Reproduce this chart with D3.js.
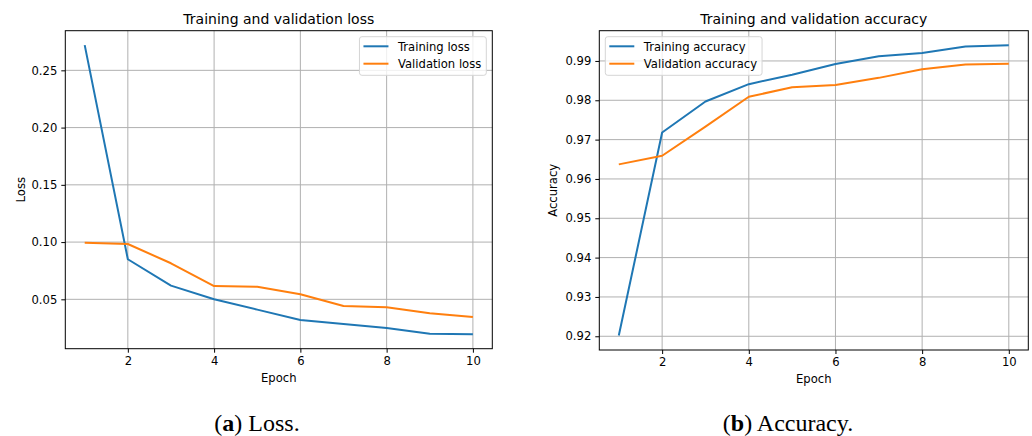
<!DOCTYPE html>
<html>
<head>
<meta charset="utf-8">
<script src="https://cdn.jsdelivr.net/npm/d3@7"></script>
<style>
  html, body { margin: 0; padding: 0; background: #fff; }
  svg text { font-family: "DejaVu Sans", sans-serif; fill: #000; }
  .caption { font-family: "Liberation Serif", serif; }
</style>
</head>
<body>
<svg id="fig" width="1032" height="436"></svg>
<script>
// data
const epochs = [1, 2, 3, 4, 5, 6, 7, 8, 9, 10];
const trainLoss = [0.272, 0.085, 0.062, 0.050, 0.041, 0.032, 0.0285, 0.025, 0.020, 0.0195];
const valLoss = [0.0994, 0.0983, 0.0815, 0.0616, 0.061, 0.0544, 0.0442, 0.043, 0.0378, 0.0346];
const trainAcc = [0.9202, 0.9718, 0.9797, 0.9841, 0.9865, 0.9892, 0.9912, 0.9920, 0.9937, 0.9940];
const valAcc = [0.9637, 0.9659, 0.9733, 0.9809, 0.9833, 0.9839, 0.9857, 0.9879, 0.9891, 0.9893];
const epochTicks = [2, 4, 6, 8, 10];
const lossTicks = [0.05, 0.10, 0.15, 0.20, 0.25];
const accTicks = [0.92, 0.93, 0.94, 0.95, 0.96, 0.97, 0.98, 0.99];

const blue = "#1f77b4";
const orange = "#ff7f0e";

const svg = d3.select("#fig");

// matplotlib-like 5% padding
function padded(values) {
  const [lo, hi] = d3.extent(values);
  const m = (hi - lo) * 0.05;
  return [lo - m, hi + m];
}

function drawPanel(opt) {
  const { left, right, top, bottom } = opt.box;
  const g = svg.append("g");

  const x = d3.scaleLinear().domain(padded(epochs)).range([left, right]);
  const y = d3.scaleLinear()
    .domain(padded(opt.series[0].values.concat(opt.series[1].values)))
    .range([bottom, top]);

  // grid
  g.selectAll(".vgrid")
    .data(epochTicks)
    .enter()
    .append("line")
    .attr("x1", (d) => x(d)).attr("x2", (d) => x(d))
    .attr("y1", top).attr("y2", bottom)
    .attr("stroke", "#b0b0b0")
    .attr("stroke-width", 1);

  g.selectAll(".hgrid")
    .data(opt.yTicks)
    .enter()
    .append("line")
    .attr("x1", left).attr("x2", right)
    .attr("y1", (d) => y(d)).attr("y2", (d) => y(d))
    .attr("stroke", "#b0b0b0")
    .attr("stroke-width", 1);

  // axes
  const xAxis = g.append("g")
    .attr("transform", `translate(0, ${bottom})`)
    .call(d3.axisBottom(x).tickValues(epochTicks).tickSize(4).tickPadding(4));
  const yAxis = g.append("g")
    .attr("transform", `translate(${left}, 0)`)
    .call(d3.axisLeft(y).tickValues(opt.yTicks).tickFormat(d3.format(".2f")).tickSize(4).tickPadding(4));

  [xAxis, yAxis].forEach((a) => {
    a.select(".domain").remove();
    a.selectAll("text").attr("font-family", "DejaVu Sans").attr("font-size", 11.6).attr("fill", "#000");
    a.selectAll("line").attr("stroke", "#000").attr("stroke-width", 1);
  });

  // lines
  const line = d3.line()
    .x((d, i) => x(epochs[i]))
    .y((d) => y(d));

  opt.series.forEach((s) => {
    g.append("path")
      .datum(s.values)
      .attr("fill", "none")
      .attr("stroke", s.color)
      .attr("stroke-width", 2)
      .attr("stroke-linejoin", "round")
      .attr("d", line);
  });

  // frame
  g.append("rect")
    .attr("x", left).attr("y", top)
    .attr("width", right - left).attr("height", bottom - top)
    .attr("fill", "none")
    .attr("stroke", "#000")
    .attr("stroke-width", 1);

  // title & labels
  g.append("text")
    .attr("x", (left + right) / 2)
    .attr("y", top - 7)
    .attr("text-anchor", "middle")
    .attr("font-size", 14)
    .text(opt.title);

  g.append("text")
    .attr("x", (left + right) / 2)
    .attr("y", bottom + 33)
    .attr("text-anchor", "middle")
    .attr("font-size", 11.6)
    .text("Epoch");

  g.append("text")
    .attr("transform", `translate(${opt.yLabelX}, ${(top + bottom) / 2}) rotate(-90)`)
    .attr("text-anchor", "middle")
    .attr("font-size", 11.6)
    .text(opt.yLabel);

  // legend
  const leg = g.append("g");
  const frame = leg.append("rect");
  const rowH = 17.4;
  const items = opt.series.map((s, i) => {
    const ly = top + 15.6 + i * rowH;
    leg.append("line")
      .attr("x1", 0).attr("x2", 25)
      .attr("y1", ly).attr("y2", ly)
      .attr("stroke", s.color)
      .attr("stroke-width", 2);
    return leg.append("text")
      .attr("x", 34.5)
      .attr("y", ly + 4.2)
      .attr("font-size", 11.6)
      .text(s.name);
  });
  const textW = d3.max(items, (t) => t.node().getComputedTextLength());
  const boxW = 4 + 34.5 + textW + 5;
  const boxX = opt.legendRight ? right - 6 - boxW : left + 6;
  leg.attr("transform", `translate(${boxX + 4}, 0)`);
  frame
    .attr("x", -4).attr("y", top + 6)
    .attr("width", boxW).attr("height", 38.6)
    .attr("rx", 2.5)
    .attr("fill", "#fff")
    .attr("fill-opacity", 0.8)
    .attr("stroke", "#d5d5d5")
    .attr("stroke-width", 1);

  // caption
  const cap = svg.append("text")
    .attr("class", "caption")
    .attr("x", opt.captionX)
    .attr("y", 431)
    .attr("text-anchor", "middle")
    .attr("font-size", 24);
  cap.append("tspan").text("(");
  cap.append("tspan").attr("font-weight", "bold").text(opt.captionTag);
  cap.append("tspan").text(") " + opt.caption);
}

drawPanel({
  box: { left: 65.3, right: 492.3, top: 30.7, bottom: 348.7 },
  title: "Training and validation loss",
  yLabel: "Loss",
  yLabelX: 25,
  yTicks: lossTicks,
  series: [
    { name: "Training loss", values: trainLoss, color: blue },
    { name: "Validation loss", values: valLoss, color: orange },
  ],
  legendRight: true,
  captionX: 257,
  captionTag: "a",
  caption: "Loss.",
});

drawPanel({
  box: { left: 599.3, right: 1028.3, top: 30.7, bottom: 350 },
  title: "Training and validation accuracy",
  yLabel: "Accuracy",
  yLabelX: 557,
  yTicks: accTicks,
  series: [
    { name: "Training accuracy", values: trainAcc, color: blue },
    { name: "Validation accuracy", values: valAcc, color: orange },
  ],
  legendRight: false,
  captionX: 788,
  captionTag: "b",
  caption: "Accuracy.",
});
</script>
</body>
</html>
